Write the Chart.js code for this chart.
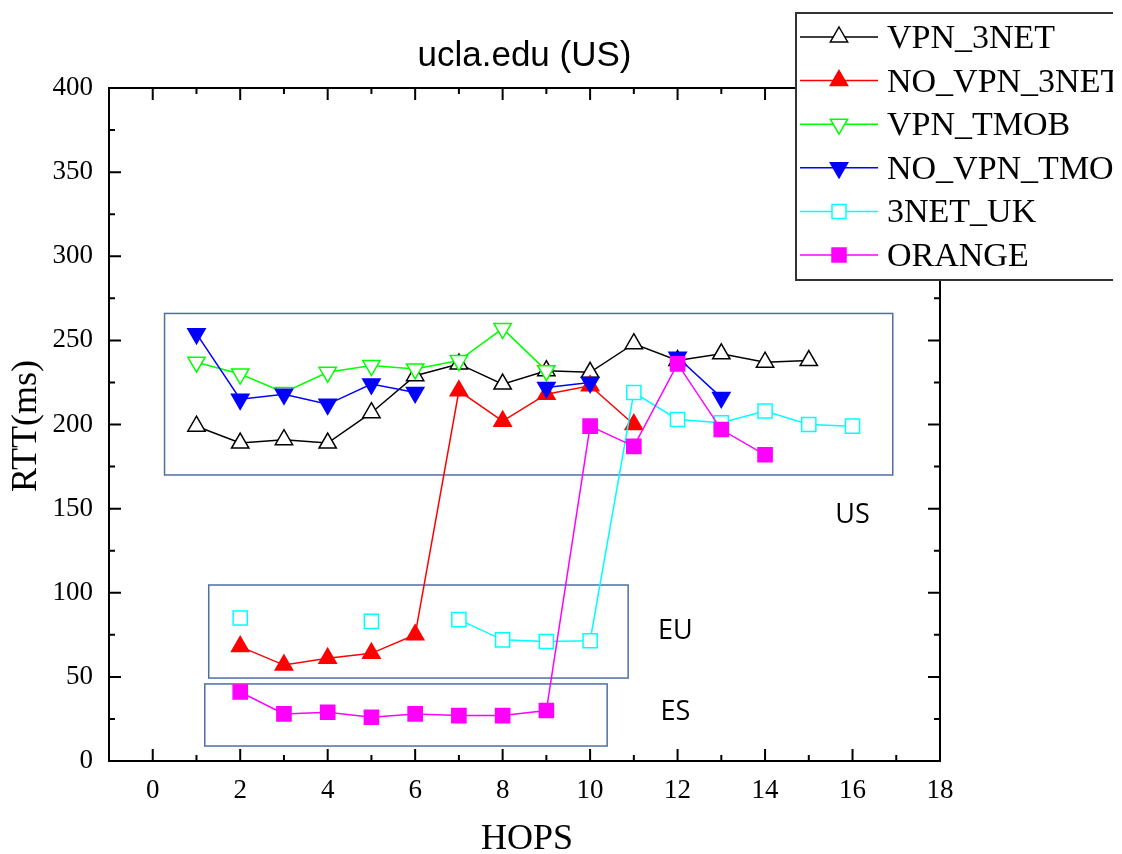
<!DOCTYPE html>
<html>
<head>
<meta charset="utf-8">
<script src="https://cdn.jsdelivr.net/npm/chart.js"></script>
<style>
  body { margin: 0; background: #fff; }
</style>
</head>
<body>
<canvas id="rttChart" width="1122" height="854"></canvas>
<script>
// RTT per hop towards ucla.edu
const hops = [1, 2, 3, 4, 5, 6, 7, 8, 9, 10, 11, 12, 13, 14, 15, 16];
const vpn3net   = [199, 189, 191, 189, 207, 229, 236, 224, 232, 231, 248, 238, 242, 237, 238, null];
const noVpn3net = [null, 68, 57, 61, 64, 75, 220, 202, 218, 223, 200, null, null, null, null, null];
const vpnTmob   = [237, 230, 219, 231, 235, 233, 238, 257, 232, null, null, null, null, null, null, null];
const noVpnTmob = [254, 215, 218, 212, 224, 219, null, null, 222, 225, null, 240, 216, null, null, null];
const uk3net    = [null, 85, null, null, 83, null, 84, 72, 71, 71.5, 219, 203, 201, 208, 200, 199];
const orange    = [null, 41, 28, 29, 26, 28, 27, 27, 30, 199, 187, 236, 197, 182, null, null];

const xTicks = [0, 2, 4, 6, 8, 10, 12, 14, 16, 18];
const yTicks = [0, 50, 100, 150, 200, 250, 300, 350, 400];

// boxes grouping the hops by country (data units)
const regionNames = ['US', 'EU', 'ES'];
const regionBoxes = [
  { x0: 0.27, x1: 16.92, y0: 170, y1: 266 },
  { x0: 1.28, x1: 10.87, y0: 49.3, y1: 104.6 },
  { x0: 1.19, x1: 10.39, y0: 8.9, y1: 45.8 }
];
const regionLabelAt = [
  { x: 16.0, y: 146 },
  { x: 11.95, y: 77 },
  { x: 11.95, y: 29 }
];

function points(values) {
  return hops.map((h, i) => ({ x: h, y: values[i] }));
}

function series(label, values, color, style, filled, order) {
  return {
    label: label,
    data: points(values),
    borderColor: color,
    borderWidth: 1.5,
    pointStyle: style === 'down' ? 'triangle' : style,
    rotation: style === 'down' ? 180 : 0,
    pointRadius: 10,
    pointBorderWidth: 1.5,
    pointBackgroundColor: filled ? color : '#fff',
    pointBorderColor: color,
    tension: 0,
    spanGaps: false,
    order: order
  };
}

const datasets = [
  series('VPN_3NET', vpn3net, '#000000', 'triangle', false, 5),
  series('NO_VPN_3NET', noVpn3net, '#ff0000', 'triangle', true, 4),
  series('VPN_TMOB', vpnTmob, '#00ff00', 'down', false, 3),
  series('NO_VPN_TMOB', noVpnTmob, '#0000ff', 'down', true, 2),
  series('3NET_UK', uk3net, '#00ffff', 'rect', false, 1),
  series('ORANGE', orange, '#ff00ff', 'rect', true, 0)
];

// marker used in the legend
function drawMarker(ctx, ds, x, y) {
  ctx.save();
  ctx.lineWidth = 1.5;
  ctx.strokeStyle = ds.pointBorderColor;
  ctx.fillStyle = ds.pointBackgroundColor;
  ctx.beginPath();
  if (ds.pointStyle === 'rect') {
    const s = 7;
    ctx.rect(x - s, y - s, 2 * s, 2 * s);
  } else {
    const r = 10;
    const dir = ds.rotation === 180 ? -1 : 1;
    ctx.moveTo(x, y - dir * r);
    ctx.lineTo(x + r * 0.866, y + dir * r / 2);
    ctx.lineTo(x - r * 0.866, y + dir * r / 2);
    ctx.closePath();
  }
  ctx.fill();
  ctx.stroke();
  ctx.restore();
}

const decorations = {
  id: 'decorations',
  beforeDatasetsDraw(chart) {
    const ctx = chart.ctx;
    const xs = chart.scales.x, ys = chart.scales.y;
    ctx.save();
    ctx.strokeStyle = '#4f6fa3';
    ctx.lineWidth = 1.5;
    regionBoxes.forEach(b => {
      const l = xs.getPixelForValue(b.x0), r = xs.getPixelForValue(b.x1);
      const t = ys.getPixelForValue(b.y1), bt = ys.getPixelForValue(b.y0);
      ctx.strokeRect(l, t, r - l, bt - t);
    });
    ctx.fillStyle = '#000';
    ctx.font = "27px 'Open Sans'";
    ctx.textAlign = 'center';
    ctx.textBaseline = 'middle';
    regionNames.forEach((n, i) => {
      ctx.fillText(n, xs.getPixelForValue(regionLabelAt[i].x), ys.getPixelForValue(regionLabelAt[i].y));
    });
    ctx.restore();
  },
  afterDraw(chart) {
    const ctx = chart.ctx;
    const a = chart.chartArea;
    const xs = chart.scales.x, ys = chart.scales.y;
    ctx.save();
    // frame
    ctx.strokeStyle = '#000';
    ctx.lineWidth = 2;
    ctx.strokeRect(a.left, a.top, a.right - a.left, a.bottom - a.top);
    // inward ticks on all four sides
    ctx.beginPath();
    for (let v = -1; v <= 18; v++) {
      const px = xs.getPixelForValue(v);
      const len = v % 2 === 0 ? 12 : 6;
      ctx.moveTo(px, a.bottom); ctx.lineTo(px, a.bottom - len);
      ctx.moveTo(px, a.top); ctx.lineTo(px, a.top + len);
    }
    for (let v = 0; v <= 400; v += 25) {
      const py = ys.getPixelForValue(v);
      const len = v % 50 === 0 ? 12 : 6;
      ctx.moveTo(a.left, py); ctx.lineTo(a.left + len, py);
      ctx.moveTo(a.right, py); ctx.lineTo(a.right - len, py);
    }
    ctx.stroke();

    // title and axis titles
    ctx.fillStyle = '#000';
    ctx.textAlign = 'center';
    ctx.textBaseline = 'middle';
    ctx.font = "35px 'Liberation Sans'";
    ctx.fillText('ucla.edu (US)', (a.left + a.right) / 2, 56);
    ctx.font = "36px 'Liberation Serif'";
    ctx.fillText('HOPS', 527, 840);
    ctx.save();
    ctx.translate(27, 426);
    ctx.rotate(-Math.PI / 2);
    ctx.fillText('RTT(ms)', 0, 0);
    ctx.restore();

    // legend box, cut at the right edge
    ctx.save();
    ctx.beginPath();
    ctx.rect(0, 0, 1113, 854);
    ctx.clip();
    ctx.fillStyle = '#fff';
    ctx.fillRect(796, 13, 340, 267);
    ctx.strokeStyle = '#333';
    ctx.lineWidth = 2;
    ctx.strokeRect(796, 13, 340, 267);
    ctx.font = "34px 'Liberation Serif'";
    ctx.textAlign = 'left';
    ctx.textBaseline = 'middle';
    chart.data.datasets.forEach((ds, i) => {
      const y = 37 + i * 43.6;
      ctx.strokeStyle = ds.borderColor;
      ctx.lineWidth = 1.5;
      ctx.beginPath();
      ctx.moveTo(800, y); ctx.lineTo(878, y);
      ctx.stroke();
      drawMarker(ctx, ds, 839, y);
      ctx.fillStyle = '#000';
      ctx.fillText(ds.label, 887, y + 2);
    });
    ctx.restore();
    ctx.restore();
  }
};

new Chart(document.getElementById('rttChart'), {
  type: 'line',
  data: { datasets: datasets },
  options: {
    responsive: false,
    devicePixelRatio: 1,
    animation: false,
    layout: { padding: { top: 88, right: 182, left: 0, bottom: 0 } },
    plugins: {
      legend: { display: false },
      title: { display: false },
      tooltip: { enabled: false }
    },
    scales: {
      x: {
        type: 'linear',
        min: -1,
        max: 18,
        afterBuildTicks: s => { s.ticks = xTicks.map(v => ({ value: v })); },
        afterFit: s => { s.height = 93; },
        grid: { display: false, drawTicks: false },
        border: { display: false },
        ticks: {
          color: '#000',
          padding: 14,
          maxRotation: 0,
          autoSkip: false,
          font: { family: 'Liberation Serif', size: 27 }
        }
      },
      y: {
        min: 0,
        max: 400,
        afterBuildTicks: s => { s.ticks = yTicks.map(v => ({ value: v })); },
        afterFit: s => { s.width = 109; },
        grid: { display: false, drawTicks: false },
        border: { display: false },
        ticks: {
          color: '#000',
          padding: 16,
          font: { family: 'Liberation Serif', size: 27 }
        }
      }
    }
  },
  plugins: [decorations]
});
</script>
</body>
</html>
